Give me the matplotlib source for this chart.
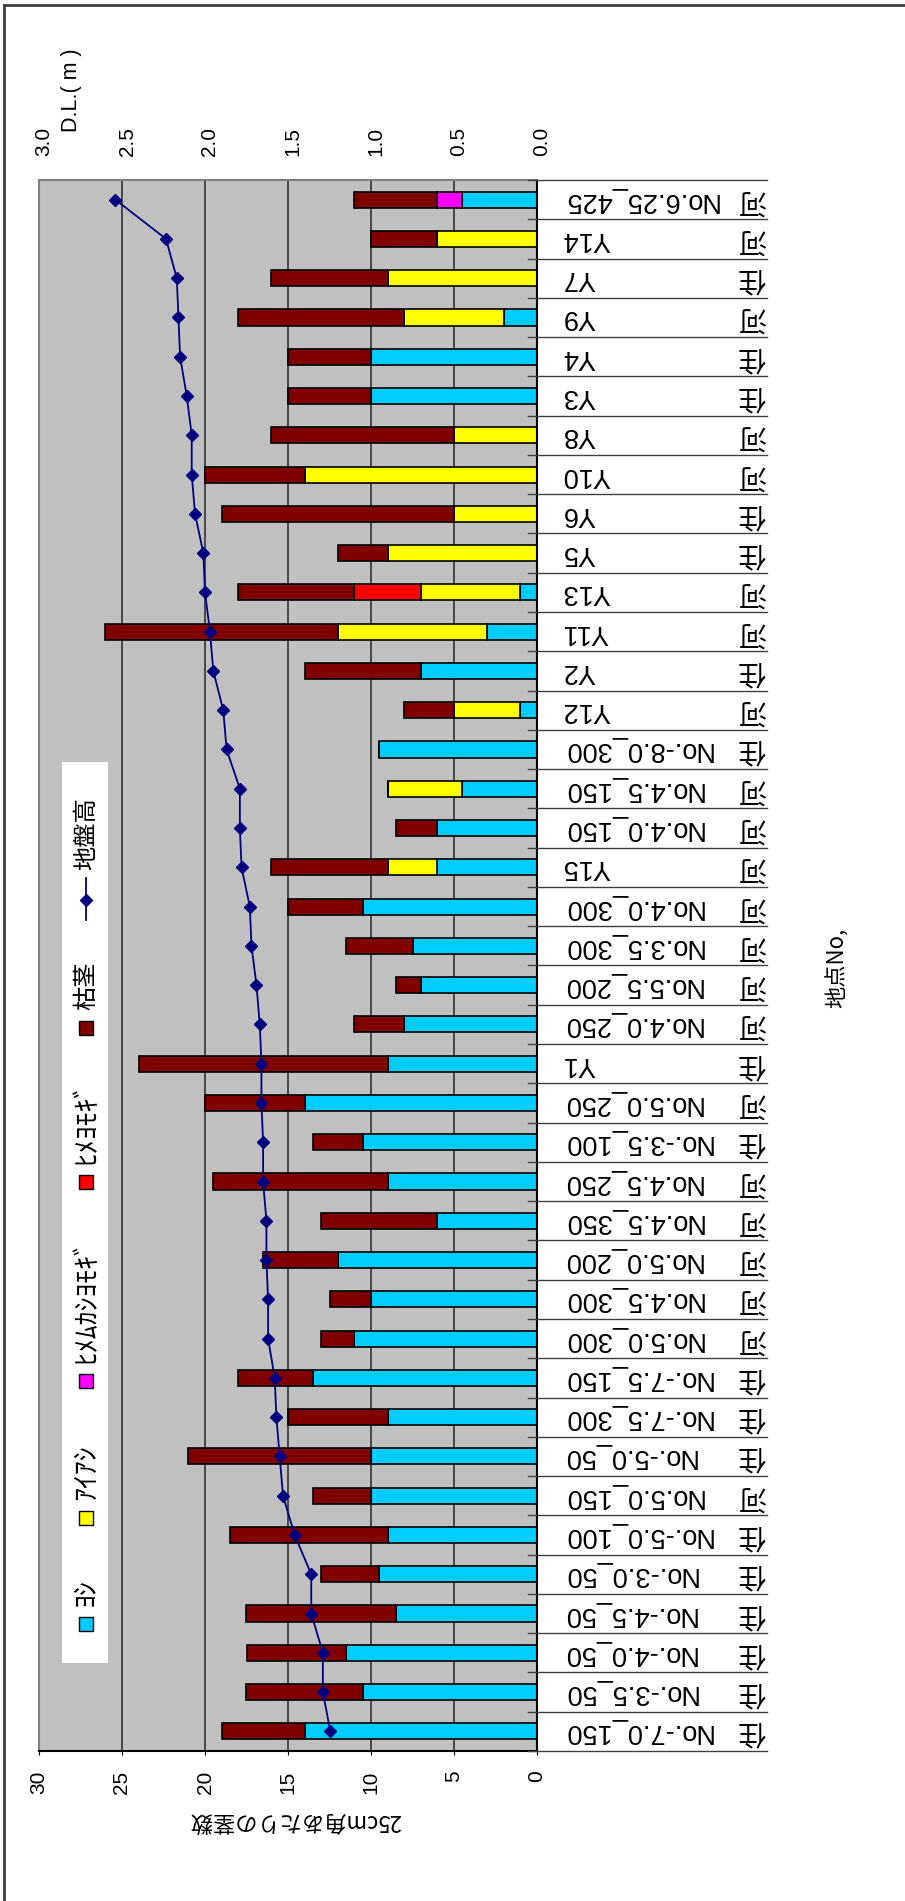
import numpy as np
import matplotlib.pyplot as plt
from matplotlib.patches import Rectangle
from matplotlib.transforms import blended_transform_factory, ScaledTranslation

plt.rcParams['font.family'] = ['Liberation Sans', 'Noto Sans CJK JP']

# 地点 (下から上へ) と区分
sites = ["No.-7.0_150", "No.-3.5_50", "No.-4.0_50", "No.-4.5_50", "No.-3.0_50",
         "No.-5.0_100", "No.5.0_150", "No.-5.0_50", "No.-7.5_300", "No.-7.5_150",
         "No.5.0_300", "No.4.5_300", "No.5.0_200", "No.4.5_350", "No.4.5_250",
         "No.-3.5_100", "No.5.0_250", "Y1", "No.4.0_250", "No.5.5_200",
         "No.3.5_300", "No.4.0_300", "Y15", "No.4.0_150", "No.4.5_150",
         "No.-8.0_300", "Y12", "Y2", "Y11", "Y13",
         "Y5", "Y6", "Y10", "Y8", "Y3",
         "Y4", "Y9", "Y7", "Y14", "No.6.25_425"]
zones = ["住", "住", "住", "住", "住", "住", "河", "住", "住", "住",
         "河", "河", "河", "河", "河", "住", "河", "住", "河", "河",
         "河", "河", "河", "河", "河", "住", "河", "住", "河", "河",
         "住", "住", "河", "河", "住", "住", "河", "住", "河", "河"]

# 25cm角あたりの茎数
yoshi = [14, 10.5, 11.5, 8.5, 9.5, 9, 10, 10, 9, 13.5,
         11, 10, 12, 6, 9, 10.5, 14, 9, 8, 7,
         7.5, 10.5, 6, 6, 4.5, 9.5, 1, 7, 3, 1,
         0, 0, 0, 0, 10, 10, 2, 0, 0, 4.5]
aiashi = [0, 0, 0, 0, 0, 0, 0, 0, 0, 0,
          0, 0, 0, 0, 0, 0, 0, 0, 0, 0,
          0, 0, 3, 0, 4.5, 0, 4, 0, 9, 6,
          9, 5, 14, 5, 0, 0, 6, 9, 6, 0]
himemukashi = [0] * 39 + [1.5]
himeyomogi = [0] * 29 + [4] + [0] * 10
karekuki = [5, 7, 6, 9, 3.5, 9.5, 3.5, 11, 6, 4.5,
            2, 2.5, 4.5, 7, 10.5, 3, 6, 15, 3, 1.5,
            4, 4.5, 7, 2.5, 0, 0, 3, 7, 14, 7,
            3, 14, 6, 11, 5, 5, 10, 7, 4, 5]

# 地盤高 D.L.(m)
ground = [1.245, 1.29, 1.29, 1.36, 1.36, 1.46, 1.53, 1.55, 1.57, 1.58,
          1.62, 1.62, 1.63, 1.63, 1.65, 1.65, 1.66, 1.66, 1.67, 1.69,
          1.72, 1.73, 1.78, 1.79, 1.79, 1.87, 1.89, 1.95, 1.97, 2.0,
          2.01, 2.06, 2.08, 2.08, 2.11, 2.15, 2.16, 2.17, 2.235, 2.54]

series = [("ﾖｼ", yoshi, "#00CCFF"),
          ("ｱｲｱｼ", aiashi, "#FFFF00"),
          ("ﾋﾒﾑｶｼﾖﾓｷﾞ", himemukashi, "#FF00FF"),
          ("ﾋﾒﾖﾓｷﾞ", himeyomogi, "#FF0000"),
          ("枯茎", karekuki, "#800000")]
line_label = "地盤高"
line_color = "#000080"

W, H = 905, 1901
fig = plt.figure(figsize=(W / 100, H / 100), dpi=100)


def box(x0, y0, x1, y1):
    # pixel rectangle measured from the top-left corner -> figure fraction
    return [x0 / W, 1 - y1 / H, (x1 - x0) / W, (y1 - y0) / H]


ax = fig.add_axes(box(39, 180, 537, 1751))
ax.set_facecolor("#C0C0C0")
pos = np.arange(len(sites))
left = np.zeros(len(sites))
for name, vals, color in series:
    vals = np.array(vals, dtype=float)
    ax.barh(pos, vals, left=left, height=0.41, color=color,
            edgecolor="black", linewidth=1.2, zorder=2)
    left += vals

ax.set_xlim(30, 0)
ax.set_ylim(-0.5, len(sites) - 0.5)
ax.set_yticks([])
ticks = np.arange(0, 31, 5)
ax.set_xticks(ticks)
ax.set_xticklabels([str(t) for t in ticks], rotation=90, fontsize=15)
ax.tick_params(axis="x", length=3, pad=11, color="black")
ax.grid(axis="x", color="#333333", linewidth=1.2)
ax.set_axisbelow(True)
for side, col in [("left", "#808080"), ("top", "#808080"),
                  ("bottom", "black"), ("right", "black")]:
    ax.spines[side].set_color(col)
    ax.spines[side].set_linewidth(1.5)

ax2 = ax.twiny()
ax2.set_xlim(3, 0)
dl_ticks = np.arange(0, 3.01, 0.5)
ax2.set_xticks(dl_ticks)
ax2.set_xticklabels([f"{t:.1f}" for t in dl_ticks], rotation=90, fontsize=15)
ax2.tick_params(axis="x", length=0, pad=17)
shift = ScaledTranslation(5 / 100, 0, fig.dpi_scale_trans)
for lab in ax2.get_xticklabels():
    lab.set_transform(lab.get_transform() + shift)
for s in ax2.spines.values():
    s.set_visible(False)
ax2.plot(ground, pos, color=line_color, linewidth=1.3, marker="D",
         markersize=6, zorder=5)

# overlay in pixel coordinates for labels, frame and legend
ov = fig.add_axes([0, 0, 1, 1])
ov.set_autoscale_on(False)
ov.set_xlim(0, W)
ov.set_ylim(H, 0)
ov.axis("off")
ov.patch.set_alpha(0)

trans = blended_transform_factory(ov.transData, ax.transData)
for i, (s, z) in enumerate(zip(sites, zones)):
    ov.text(562, i, s, transform=trans, rotation=180, ha="left",
            va="center", fontsize=19.5)
    ov.text(752, i, z, transform=trans, rotation=180, ha="center",
            va="center", fontsize=20, family=["Noto Sans CJK JP"])
for b in np.arange(-0.5, len(sites)):
    ov.plot([528, 767], [b, b], transform=trans, color="#404040",
            linewidth=1, clip_on=False)

ov.text(295, 1821, "25cm角あたりの茎数", rotation=180, ha="center",
        va="center", fontsize=16, family=["Noto Sans CJK JP"])
ov.text(71, 90, "D.L.( m )", rotation=90, ha="center", va="center",
        fontsize=15.5)
ov.text(837, 968, "地点No,", rotation=90, ha="center", va="center",
        fontsize=16, family=["Noto Sans CJK JP"])

# chart frame
ov.plot([4, W], [5, 5], color="#404040", linewidth=2)
ov.plot([4, 4], [5, H], color="#404040", linewidth=2)

# legend
ov.add_patch(Rectangle((62, 762), 46, 901, facecolor="white",
                       edgecolor="none", zorder=3))
swatch_y = [1624, 1518, 1381, 1182, 1028]
text_y = [1606, 1500, 1363, 1164, 1010]
for (name, vals, color), yc, ty in zip(series, swatch_y, text_y):
    ov.add_patch(Rectangle((79, yc - 7), 14, 14, facecolor=color,
                           edgecolor="black", linewidth=1, zorder=4))
    size = 17.5 if name == "枯茎" else 20
    ov.text(86, ty, name, rotation=90, ha="center", va="bottom",
            fontsize=size, family=["Noto Sans CJK JP"], zorder=4)
ov.plot([86, 86], [920, 878], color=line_color, linewidth=1.3, zorder=4)
ov.plot([86], [900], color=line_color, marker="D", markersize=6, zorder=4)
ov.text(86, 870, line_label, rotation=90, ha="center", va="bottom",
        fontsize=17.5, family=["Noto Sans CJK JP"], zorder=4)

fig.savefig("out.png", dpi=100, facecolor="white")
